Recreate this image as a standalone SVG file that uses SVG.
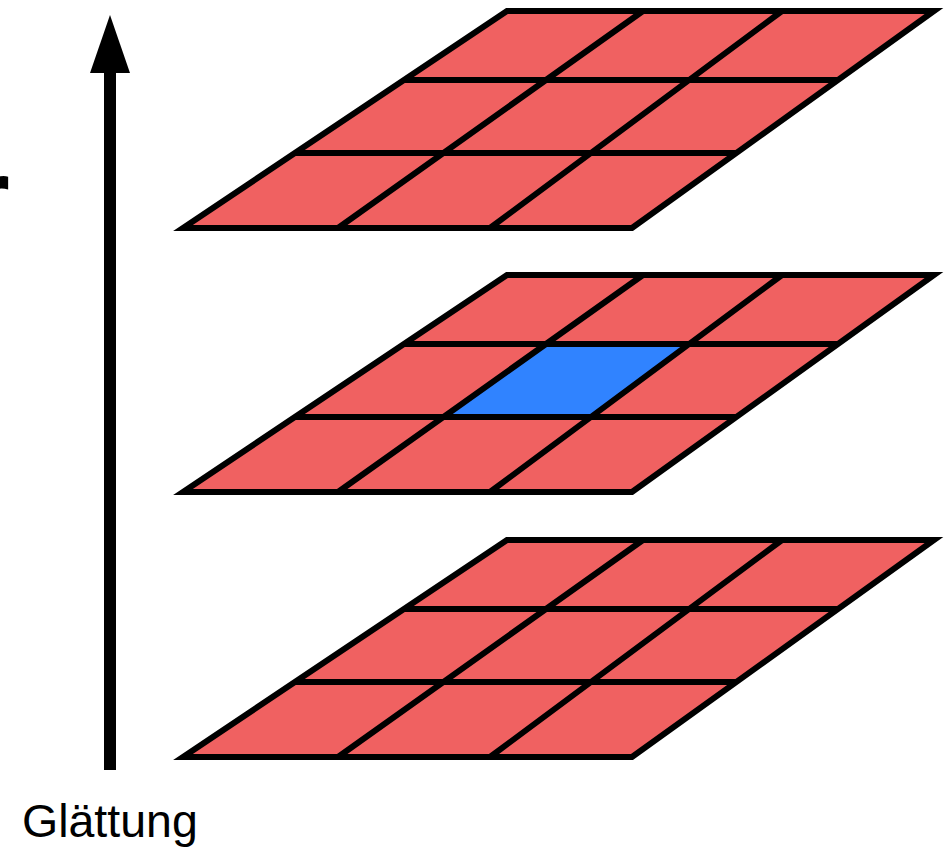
<svg xmlns="http://www.w3.org/2000/svg" xmlns:xlink="http://www.w3.org/1999/xlink" width="946" height="847" viewBox="0 0 946 847">
<style>
.fill{fill:#F06161;stroke:none}
.blue{fill:#3083FF;stroke:none}
.ln{fill:none;stroke:#000;stroke-width:6;stroke-linejoin:miter;stroke-miterlimit:6}
.lbl{font-family:"Liberation Sans",Arial,sans-serif;fill:#000}
</style>
<defs>
<path id="gfill" class="fill" d="M507,0 L934,0 L632,217 L183,217 Z"/>
<path id="glines" class="ln" d="M507,0 L934,0 L632,217 L183,217 Z M404,69 L838,69 M295,142 L736.3,142 M643,0 L338,217 M782,0 L490,217"/>
</defs>
<g id="connectors">
<line x1="110" y1="770" x2="110" y2="70" stroke="#000" stroke-width="12"/>
<polygon points="110,15 130,73 90,73" fill="#000"/>
</g>
<g id="layer-top" transform="translate(0,11)">
<use xlink:href="#gfill"/>
<use xlink:href="#glines"/>
</g>
<g id="layer-middle" transform="translate(0,275)">
<use xlink:href="#gfill"/>
<polygon class="blue" points="546,69 689.1,69 590.9,142 443.3,142"/>
<use xlink:href="#glines"/>
</g>
<g id="layer-bottom" transform="translate(0,540)">
<use xlink:href="#gfill"/>
<use xlink:href="#glines"/>
</g>
<g id="labels">
<text class="lbl" x="-33" y="235" font-size="110" font-weight="bold">r</text>
<text class="lbl" x="22" y="837" font-size="46.5">Glättung</text>
</g>
</svg>
